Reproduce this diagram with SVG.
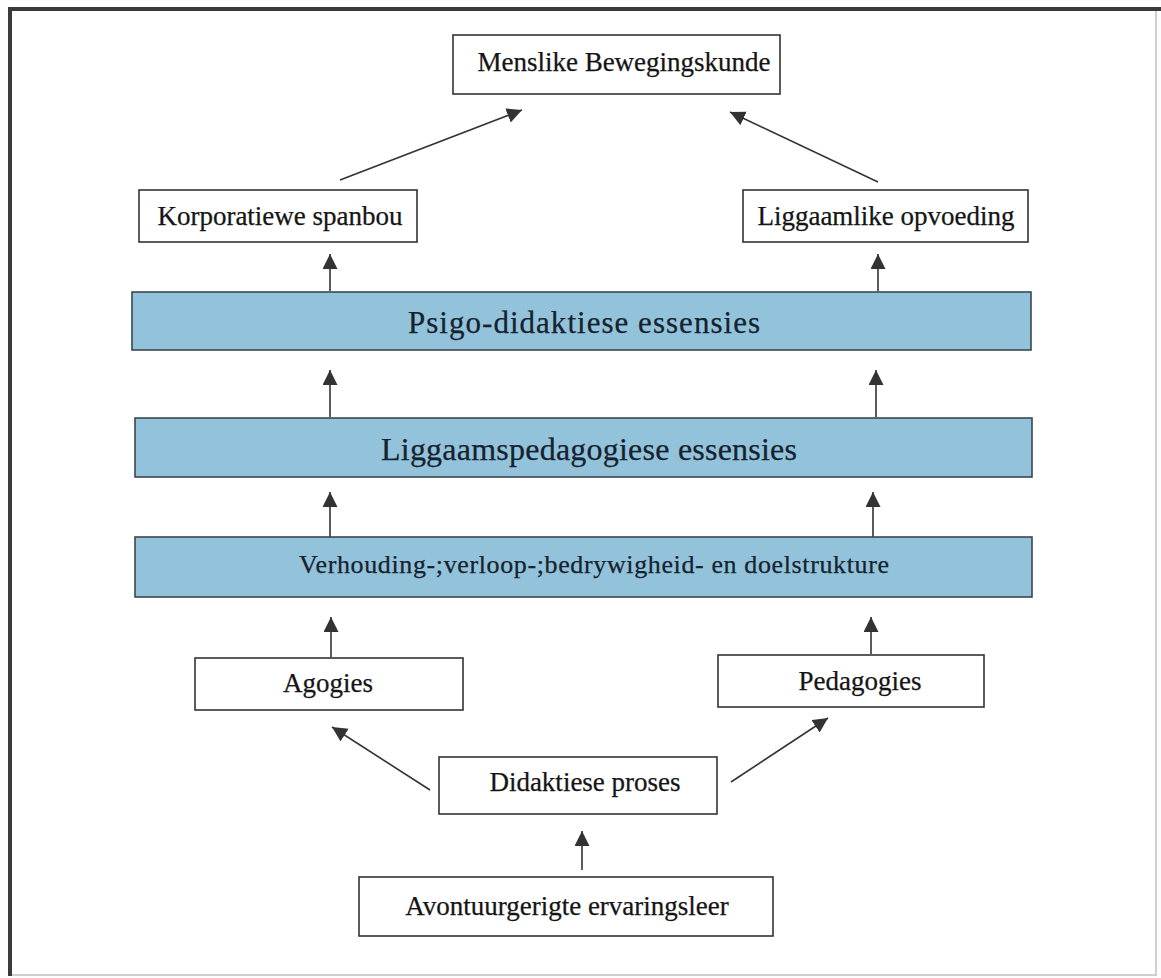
<svg xmlns="http://www.w3.org/2000/svg" width="1161" height="978" viewBox="0 0 1161 978">
  <style>
    .box { fill: #ffffff; stroke: #333333; stroke-width: 1.6; }
    .band { fill: #92c3db; stroke: #3a4650; stroke-width: 1.6; }
    .lbl { font-family: "Liberation Serif", "Times New Roman", serif; font-size: 27px; fill: #151515; stroke: #151515; stroke-width: 0.25; text-anchor: middle; }
    .blbl { font-family: "Liberation Serif", "Times New Roman", serif; fill: #16222e; stroke: #16222e; stroke-width: 0.25; text-anchor: middle; }
    .conn { stroke: #333333; stroke-width: 1.6; fill: none; marker-end: url(#head); }
  </style>
  <defs>
    <marker id="head" markerUnits="userSpaceOnUse" markerWidth="18" markerHeight="16" refX="15" refY="7.5" orient="auto">
      <path d="M0,0 L15,7.5 L0,15 Z" fill="#333333"/>
    </marker>
  </defs>

  <!-- page background and frame -->
  <rect x="0" y="0" width="1161" height="978" fill="#fdfdfd"/>
  <rect x="10" y="9" width="1146" height="966" fill="#ffffff" stroke="#cfcfcf" stroke-width="2"/>
  <line x1="8" y1="9" x2="1161" y2="9" stroke="#3a3a3a" stroke-width="4"/>
  <line x1="10" y1="7" x2="10" y2="976" stroke="#3a3a3a" stroke-width="4"/>

  <g id="connectors">
    <line class="conn" x1="340" y1="180" x2="522" y2="110"/>
    <line class="conn" x1="878" y1="182" x2="730" y2="112"/>
    <line class="conn" x1="330" y1="291" x2="330" y2="254"/>
    <line class="conn" x1="878" y1="291" x2="878" y2="254"/>
    <line class="conn" x1="330" y1="417" x2="330" y2="370"/>
    <line class="conn" x1="876" y1="417" x2="876" y2="370"/>
    <line class="conn" x1="330" y1="537" x2="330" y2="492"/>
    <line class="conn" x1="873" y1="537" x2="873" y2="492"/>
    <line class="conn" x1="331" y1="657" x2="331" y2="617"/>
    <line class="conn" x1="871" y1="654" x2="871" y2="617"/>
    <line class="conn" x1="430" y1="790" x2="332" y2="727"/>
    <line class="conn" x1="731" y1="782" x2="828" y2="718"/>
    <line class="conn" x1="582" y1="870" x2="582" y2="831"/>
  </g>

  <g id="menslike-bewegingskunde">
    <rect class="box" x="453" y="35" width="327" height="59"/>
    <text class="lbl" x="624" y="71">Menslike Bewegingskunde</text>
  </g>

  <g id="korporatiewe-spanbou">
    <rect class="box" x="139" y="190" width="278" height="52"/>
    <text class="lbl" x="280" y="225">Korporatiewe spanbou</text>
  </g>

  <g id="liggaamlike-opvoeding">
    <rect class="box" x="743" y="190" width="285" height="52"/>
    <text class="lbl" x="886" y="225">Liggaamlike opvoeding</text>
  </g>

  <g id="psigo-didaktiese-essensies">
    <rect class="band" x="132" y="292" width="899" height="58"/>
    <text class="blbl" x="584" y="333" font-size="31" textLength="352" lengthAdjust="spacing">Psigo-didaktiese essensies</text>
  </g>

  <g id="liggaamspedagogiese-essensies">
    <rect class="band" x="135" y="418" width="897" height="59"/>
    <text class="blbl" x="589" y="460" font-size="32" textLength="416" lengthAdjust="spacing">Liggaamspedagogiese essensies</text>
  </g>

  <g id="strukture">
    <rect class="band" x="135" y="537" width="897" height="60"/>
    <text class="blbl" x="594" y="573" font-size="26" textLength="590" lengthAdjust="spacing">Verhouding-;verloop-;bedrywigheid- en doelstrukture</text>
  </g>

  <g id="agogies">
    <rect class="box" x="195" y="658" width="268" height="52"/>
    <text class="lbl" x="328" y="692">Agogies</text>
  </g>

  <g id="pedagogies">
    <rect class="box" x="718" y="655" width="266" height="52"/>
    <text class="lbl" x="860" y="690">Pedagogies</text>
  </g>

  <g id="didaktiese-proses">
    <rect class="box" x="439" y="757" width="278" height="57"/>
    <text class="lbl" x="585" y="791">Didaktiese proses</text>
  </g>

  <g id="avontuurgerigte-ervaringsleer">
    <rect class="box" x="359" y="877" width="414" height="59"/>
    <text class="lbl" x="567" y="915">Avontuurgerigte ervaringsleer</text>
  </g>
</svg>
